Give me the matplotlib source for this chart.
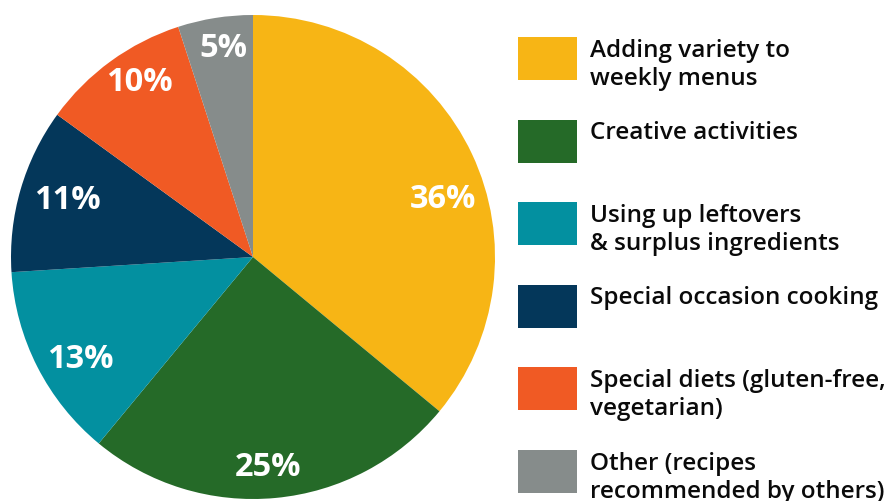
import numpy as np
import matplotlib
matplotlib.use("Agg")
import matplotlib.pyplot as plt
from matplotlib.patches import Rectangle

categories = [
    "Adding variety to\nweekly menus",
    "Creative activities",
    "Using up leftovers\n& surplus ingredients",
    "Special occasion cooking",
    "Special diets (gluten-free,\nvegetarian)",
    "Other (recipes\nrecommended by others)",
]
shares = [36, 25, 13, 11, 10, 5]
colors = ["#F7B515", "#256A28", "#0390A0", "#04375A", "#F05A24", "#868C8B"]

W, H = 890, 501
plt.rcParams['font.family'] = ['Open Sans', 'DejaVu Sans']
fig = plt.figure(figsize=(W / 100, H / 100), dpi=100)

# pie axes (pixel layout: centre ~ (253, 257), radius ~ 242)
ax = fig.add_axes([11 / W, 2 / H, 484 / W, 484 / H])
wedges, _ = ax.pie(shares, colors=colors, startangle=90, counterclock=False,
                   radius=1.0, wedgeprops=dict(linewidth=0))
ax.set_xlim(-1, 1)
ax.set_ylim(-1, 1)
ax.set_aspect('equal')
ax.axis('off')

# percent labels near the rim of each wedge
label_r = [0.82, 0.87, 0.83, 0.80, 0.86, 0.87]
angle_shift = [-8.5, -1.3, 3.6, -0.8, -3.0, -0.8]
for w, v, r, sh in zip(wedges, shares, label_r, angle_shift):
    a = np.deg2rad((w.theta1 + w.theta2) / 2 + sh)
    ax.text(r * np.cos(a), r * np.sin(a), f"{v}%", color="white",
            fontsize=23.5, fontweight="bold", ha="center", va="center")

# legend drawn in pixel space
lg = fig.add_axes([0, 0, 1, 1])
lg.set_xlim(0, W)
lg.set_ylim(H, 0)
lg.axis('off')
box_top = 37
step = 82.6
line_h = 28.5
for i, (lab, c) in enumerate(zip(categories, colors)):
    y = box_top + i * step
    lg.add_patch(Rectangle((518, y), 59, 43, facecolor=c, edgecolor='none'))
    for k, line in enumerate(lab.split("\n")):
        lg.text(590, y + 19.5 + k * line_h, line, fontsize=17.5, fontweight="semibold",
                color="#0a0a0a", ha="left", va="baseline")

fig.savefig("out.png", dpi=100)
